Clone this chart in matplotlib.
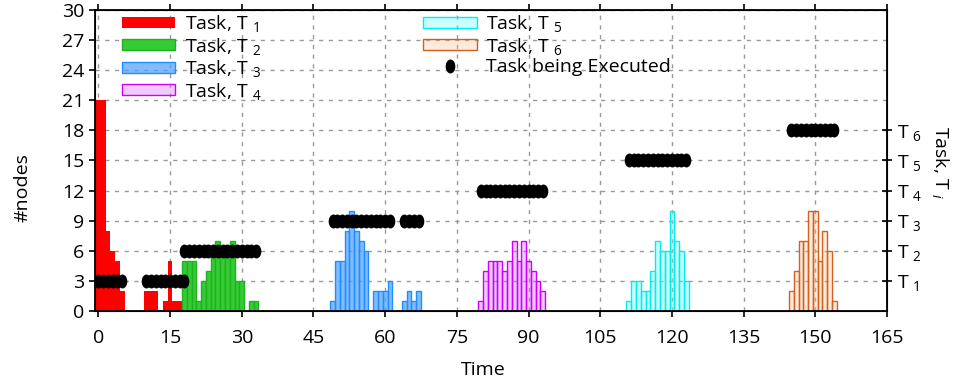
import matplotlib.pyplot as plt
from matplotlib.path import Path
from matplotlib.transforms import Affine2D
from matplotlib.lines import Line2D

plt.rcParams['font.family'] = ['Open Sans', 'DejaVu Sans']
plt.rcParams['mathtext.fontset'] = 'custom'
plt.rcParams['mathtext.rm'] = 'Open Sans'
plt.rcParams['mathtext.it'] = 'Open Sans:italic'

# nodes per time step for every task
t1_time = [0, 1, 2, 3, 4, 5, 10, 11, 12, 14, 15, 16, 17]
t1_nodes = [21, 21, 8, 6, 5, 2, 2, 2, 2, 1, 5, 1, 1]
t2_time = [18, 19, 20, 21, 22, 23, 24, 25, 26, 27, 28, 29, 30, 32, 33]
t2_nodes = [5, 5, 5, 1, 3, 4, 6, 7, 6, 6, 7, 3, 3, 1, 1]
t3_time = [49, 50, 51, 52, 53, 54, 55, 56, 58, 59, 60, 61, 64, 65, 66, 67]
t3_nodes = [1, 5, 5, 8, 10, 8, 7, 6, 2, 2, 2, 3, 1, 2, 1, 2]
t4_time = [80, 81, 82, 83, 84, 85, 86, 87, 88, 89, 90, 91, 92, 93]
t4_nodes = [1, 4, 5, 5, 5, 4, 5, 7, 5, 7, 5, 4, 3, 2]
t5_time = [111, 112, 113, 114, 115, 116, 117, 118, 119, 120, 121, 122, 123]
t5_nodes = [1, 3, 3, 2, 2, 4, 7, 6, 6, 10, 7, 6, 3]
t6_time = [145, 146, 147, 148, 149, 150, 151, 152, 153, 154]
t6_nodes = [2, 4, 7, 7, 10, 10, 5, 8, 6, 1]

# execution spans (first step, last step) and the level they are drawn on
exec_spans = [[(0, 5), (10, 18)], [(18, 33)], [(49, 61), (64, 67)],
              [(80, 93)], [(111, 123)], [(145, 154)]]
exec_level = [3, 6, 9, 12, 15, 18]
task_ticks = ['T $_{1}$', 'T $_{2}$', 'T $_{3}$', 'T $_{4}$', 'T $_{5}$', 'T $_{6}$']

fig = plt.figure(figsize=(9.56, 3.83), dpi=100)
ax = fig.add_axes([0.0994, 0.188, 0.8284, 0.786])
ax.set_axisbelow(True)

ax.bar(t1_time, t1_nodes, 1, color='#ff0000', linewidth=0, label='Task, T $_{1}$', zorder=2)
ax.bar(t2_time, t2_nodes, 1, color='#33cc33', edgecolor='#22b022', linewidth=1, label='Task, T $_{2}$', zorder=2)
ax.bar(t3_time, t3_nodes, 1, color=(0.3, 0.62, 1.0, 0.7), edgecolor='#1e90ff', linewidth=1, label='Task, T $_{3}$', zorder=2)
ax.bar(t4_time, t4_nodes, 1, color=(0.85, 0.4, 1.0, 0.35), edgecolor='#cc00ff', linewidth=1, label='Task, T $_{4}$', zorder=2)
ax.bar(t5_time, t5_nodes, 1, color=(0.4, 1.0, 1.0, 0.35), edgecolor='#00eeee', linewidth=1, label='Task, T $_{5}$', zorder=2)
ax.bar(t6_time, t6_nodes, 1, color=(1.0, 0.75, 0.55, 0.3), edgecolor='#d2601e', linewidth=1, label='Task, T $_{6}$', zorder=2)

# tall rounded marker like the gnuplot point
blob = Path.unit_circle().transformed(Affine2D().scale(0.66, 1.0))
for spans, lvl in zip(exec_spans, exec_level):
	for a, b in spans:
		xs = list(range(a, b + 1))
		ax.plot(xs, [lvl] * len(xs), linestyle='none', marker=blob, markersize=9,
			color='black', zorder=3)

ax.set_xlim(-0.7, 165)
ax.set_ylim(0, 30)
ax.set_xticks(range(0, 166, 15))
ax.set_yticks(range(0, 31, 3))
ax.tick_params(labelsize=14, direction='out', length=4, width=1.2, top=True)
ax.tick_params(axis='x', pad=9)
ax.grid(True, linestyle=(0, (3, 4)), color='#999999', linewidth=1)
for s in ax.spines.values():
	s.set_linewidth(1.3)
ax.set_xlabel('Time', fontsize=14)
ax.set_ylabel('#nodes', fontsize=14)
ax.xaxis.set_label_coords(0.49, -0.165)
ax.yaxis.set_label_coords(-0.08, 0.41)

ax2 = ax.twinx()
ax2.set_ylim(0, 30)
ax2.set_yticks(exec_level)
ax2.set_yticklabels(task_ticks)
ax2.tick_params(labelsize=14, direction='inout', length=7, width=1.2)
fig.text(941 / 956, 1 - 162 / 383, 'Task, T $_{i}$', fontsize=14, rotation=270,
	ha='center', va='center')

handles, labels = ax.get_legend_handles_labels()
handles.append(Line2D([], [], linestyle='none', marker=blob, markersize=9, color='black'))
labels.append('Task being Executed')
ax.legend(handles, labels, ncol=2, loc='upper left', bbox_to_anchor=(0.034, 0.99),
	frameon=False, fontsize=14, handlelength=2.75, handleheight=0.5, borderpad=0,
	borderaxespad=0, labelspacing=0.08, columnspacing=8.3, handletextpad=0.5)

fig.savefig('out.png', dpi=100)
